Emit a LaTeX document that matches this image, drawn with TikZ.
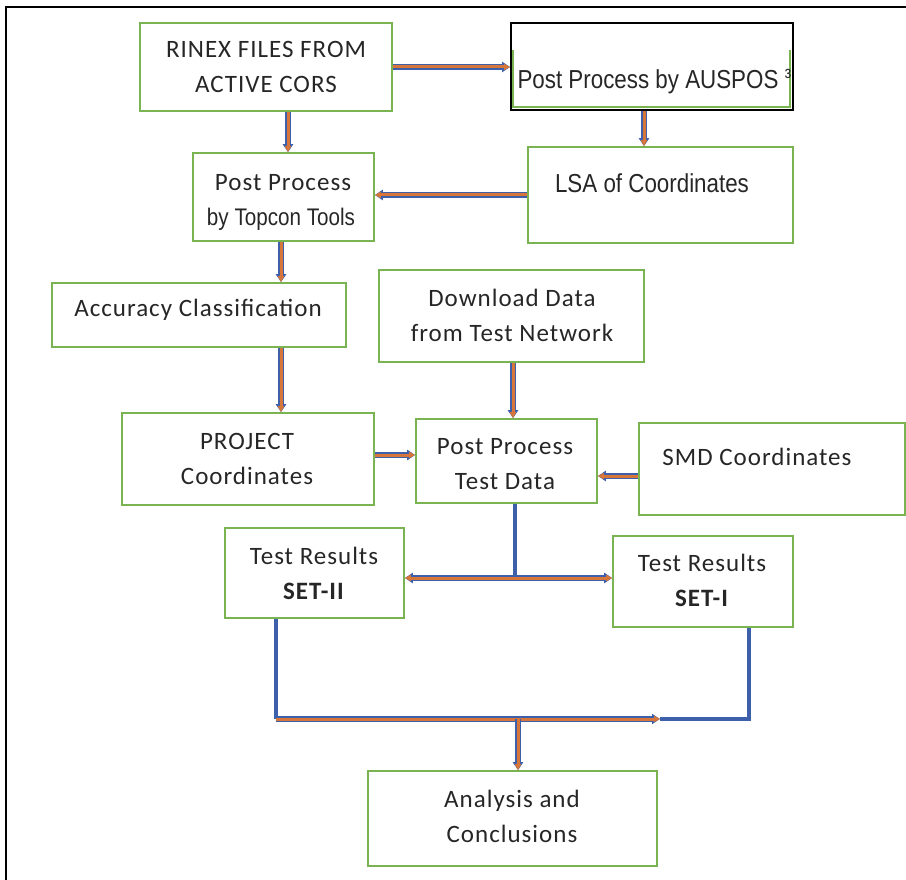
\documentclass[tikz,border=0pt]{standalone}
\usepackage{fontspec}
\setmainfont{Carlito}[LetterSpace=4]
\newfontfamily\arialn{Liberation Sans}[FakeStretch=0.86]
\usetikzlibrary{arrows.meta,calc}
\definecolor{mygreen}{RGB}{122,180,82}
\definecolor{myblue}{RGB}{62,96,170}
\definecolor{myorange}{RGB}{214,118,58}
\tikzset{
  box/.style={draw=mygreen, line width=1.6pt, minimum width=#1, inner sep=0pt},
  txt/.style={align=center, text=black!85, font=\fontsize{25}{35}\selectfont},
  atxt/.style={align=center, text=black!85, font=\arialn\fontsize{26}{30}\selectfont},
  bflow/.style={draw=myblue, line width=6.2pt, -{Triangle[length=8pt,width=10pt]}},
  oflow/.style={draw=myorange, line width=3pt, -{Triangle[length=6pt,width=6pt]}},
  bline/.style={draw=myblue, line width=4pt},
}
\newcommand\dflow[1]{\draw[bflow] #1; \draw[oflow] #1;}
\begin{document}
\begin{tikzpicture}[x=1pt,y=-1pt]
\useasboundingbox (0,0) rectangle (906,880);
% outer frame (only top and left visible)
\draw[black, line width=1.4pt] (6,880) -- (6,7) -- (906,7);
% boxes
\node[box=252pt, minimum height=88pt] (rinex) at (266,67) {};
\node[draw=black, line width=1.8pt, minimum width=282pt, minimum height=87pt, inner sep=0pt] (auspos) at (652,66.5) {};
\draw[mygreen, line width=1.3pt] (513,50) -- (513,107) -- (790,107) -- (790,50);
\node[box=265pt, minimum height=96pt] (lsa) at (660.5,195) {};
\node[box=181pt, minimum height=88pt] (topcon) at (283.5,197) {};
\node[box=294pt, minimum height=64pt] (acc) at (199,315) {};
\node[box=265pt, minimum height=92pt] (down) at (511.5,316) {};
\node[box=252pt, minimum height=92pt] (proj) at (248,459) {};
\node[box=181pt, minimum height=84pt] (ptest) at (506.5,461) {};
\node[box=266pt, minimum height=92pt] (smd) at (772,469) {};
\node[box=179pt, minimum height=90pt] (set2) at (314.5,573) {};
\node[box=180pt, minimum height=91pt] (set1) at (703,581.5) {};
\node[box=289pt, minimum height=95pt] (ana) at (512.5,818.5) {};
% texts
\node[txt] (rinexT) at (266,67) {RINEX FILES FROM\\ACTIVE CORS};
\node[atxt] (auposT) at (648,82) {Post Process by AUSPOS};
\node[atxt, font=\arialn\fontsize{22}{22}\selectfont] (supT) at (788,77) {³};
\node[atxt] (lsaT) at (652,183) {LSA of Coordinates};
\node[txt] (topT1) at (283,183) {Post Process};
\node[atxt, font=\arialn\fontsize{24}{26}\selectfont] (topT2) at (281,219) {by Topcon Tools};
\node[txt] (accT) at (198,310) {Accuracy Classification};
\node[txt] (downT) at (512,315) {Download Data\\from Test Network};
\node[txt] (projT) at (247,459) {PROJECT\\Coordinates};
\node[txt] (ptestT) at (505,464) {Post Process\\Test Data};
\node[txt] (smdT) at (757,457) {SMD Coordinates};
\node[txt] (set2T) at (314,573) {Test Results\\\textbf{SET-II}};
\node[txt] (set1T) at (702,580) {Test Results\\\textbf{SET-I}};
\node[txt] (anaT) at (512,816) {Analysis and\\Conclusions};
% connectors
\dflow{(rinex.east) -- (rinex.east -| auspos.west)}
\dflow{([xshift=-8pt]auspos.south) -- ([xshift=-8pt]auspos.south |- lsa.north)}
\dflow{([xshift=22pt]rinex.south) -- ([xshift=22pt]rinex.south |- topcon.north)}
\dflow{(lsa.west) -- (lsa.west -| topcon.east)}
\dflow{([xshift=-2.5pt]topcon.south) -- ([xshift=-2.5pt]topcon.south |- acc.north)}
\dflow{([xshift=82pt]acc.south) -- ([xshift=82pt]acc.south |- proj.north)}
\dflow{([xshift=1.5pt]down.south) -- ([xshift=1.5pt]down.south |- ptest.north)}
\dflow{([yshift=4pt]proj.east) -- ([yshift=4pt]proj.east -| ptest.west)}
\dflow{([yshift=-7pt]smd.west) -- ([yshift=-7pt]smd.west -| ptest.east)}
% split below post process test data
\coordinate (j) at ([xshift=8.5pt]ptest.south |- 0,578);
\draw[bline] ([xshift=8.5pt]ptest.south) -- (j);
\dflow{(j) -- (j -| set2.east)}
\dflow{(j) -- (j -| set1.west)}
% merge to analysis
\coordinate (m) at (660,719);
\coordinate (k) at ([xshift=-38.5pt]set2.south |- m);
\draw[bline] ([xshift=-38.5pt]set2.south) -- (k);
\draw[bline] ([xshift=46pt]set1.south) -- ([xshift=46pt]set1.south |- m) -- (m);
\dflow{(k) -- (m)}
\dflow{([xshift=5.5pt]ana.north |- m) -- ([xshift=5.5pt]ana.north)}
\end{tikzpicture}
\end{document}
